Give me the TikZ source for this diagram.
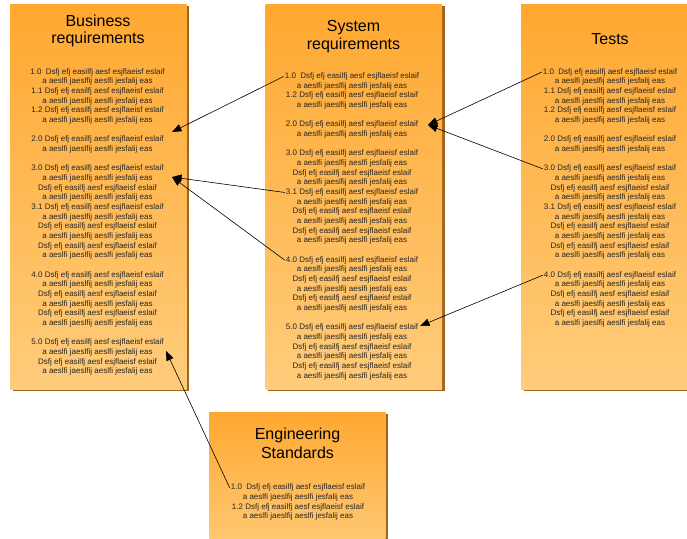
\documentclass[tikz,border=0pt]{standalone}
\usepackage{fontspec}
\setmainfont{Liberation Sans}
\usetikzlibrary{arrows.meta}
\definecolor{boxtop}{RGB}{255,168,48}
\definecolor{boxbot}{RGB}{255,204,124}
\definecolor{boxshadow}{RGB}{160,100,28}
\newcommand\dsline{Dsfj efj easilfj aesf esjflaeisf eslaif}
\newcommand\aeline{a aeslfi jaeslfij aeslfi jesfalij eas}
\tikzset{
  panel/.style={top color=boxtop, bottom color=boxbot, draw=none},
  panelshadow/.style={fill=boxshadow, draw=none},
  ttl/.style={font=\fontsize{16}{18}\selectfont, anchor=base, inner sep=0pt},
  ln/.style={font=\fontsize{8}{9.6}\selectfont, anchor=base, inner sep=1pt, text=black!85},
  link/.style={-{Triangle[length=9.5pt,width=7.5pt]}, line width=0.6pt, black},
}
\begin{document}
\begin{tikzpicture}[x=1pt,y=-1pt]
\clip (0,0) rectangle (687,538);
% panels
\fill[panelshadow] (12.5,6) rectangle (189,391);
\shade[panel] (10,4) rectangle (186.5,389);
\fill[panelshadow] (268,6) rectangle (444.5,391);
\shade[panel] (265.5,4) rectangle (442,389);
\fill[panelshadow] (523.5,6) rectangle (700.5,391);
\shade[panel] (521,4) rectangle (698,389);
\fill[panelshadow] (211.5,414) rectangle (388,560);
\shade[panel] (209,412) rectangle (385.5,558);
% titles
\node[ttl] (busT1) at (98,26) {Business};
\node[ttl] (busT2) at (98,43.5) {requirements};
\node[ttl] (sysT1) at (353.5,31.7) {System};
\node[ttl] (sysT2) at (353.5,49.4) {requirements};
\node[ttl] (tstT) at (610,44.3) {Tests};
\node[ttl] (engT1) at (297.5,439.5) {Engineering};
\node[ttl] (engT2) at (297.5,458) {Standards};
% business lines
\foreach \t [count=\i from 0] in {1.0\ \ \dsline,\aeline,1.1 \dsline,\aeline,1.2 \dsline,\aeline,{},
  2.0 \dsline,\aeline,{},
  3.0 \dsline,\aeline,\dsline,\aeline,3.1 \dsline,\aeline,\dsline,\aeline,\dsline,\aeline,{},
  4.0 \dsline,\aeline,\dsline,\aeline,\dsline,\aeline,{},
  5.0 \dsline,\aeline,\dsline,\aeline}
  \node[ln] (bus\i) at (97.5,74.2+9.67*\i) {\t};
% system lines
\foreach \t [count=\i from 0] in {1.0\ \ \dsline,\aeline,1.2 \dsline,\aeline,{},
  2.0 \dsline,\aeline,{},
  3.0 \dsline,\aeline,\dsline,\aeline,3.1 \dsline,\aeline,\dsline,\aeline,\dsline,\aeline,{},
  4.0 \dsline,\aeline,\dsline,\aeline,\dsline,\aeline,{},
  5.0 \dsline,\aeline,\dsline,\aeline,\dsline,\aeline}
  \node[ln] (sys\i) at (352,78.5+9.67*\i) {\t};
% tests lines
\foreach \t [count=\i from 0] in {1.0\ \ \dsline,\aeline,1.1 \dsline,\aeline,1.2 \dsline,\aeline,{},
  2.0 \dsline,\aeline,{},
  3.0 \dsline,\aeline,\dsline,\aeline,3.1 \dsline,\aeline,\dsline,\aeline,\dsline,\aeline,{},
  4.0 \dsline,\aeline,\dsline,\aeline,\dsline,\aeline}
  \node[ln] (tst\i) at (610,74.2+9.67*\i) {\t};
% engineering lines
\foreach \t [count=\i from 0] in {1.0\ \ \dsline,\aeline,1.2 \dsline,\aeline}
  \node[ln] (eng\i) at (298,489.8+9.67*\i) {\t};
% arrow tips
\coordinate (tipA) at (172,132);
\coordinate (tipB) at (172,177);
\coordinate (tipC) at (166,351);
\coordinate (tipD) at (428,125);
\coordinate (tipE) at (420,326);
% connectors
\draw[link] (sys0.west) -- (tipA);
\draw[link] (sys12.west) -- (tipB);
\draw[link] (sys19.west) -- (tipB);
\draw[link] (eng0.west) -- (tipC);
\draw[link] (tst0.west) -- (tipD);
\draw[link] (tst10.west) -- (tipD);
\draw[link] (tst21.west) -- (tipE);
\end{tikzpicture}
\end{document}
